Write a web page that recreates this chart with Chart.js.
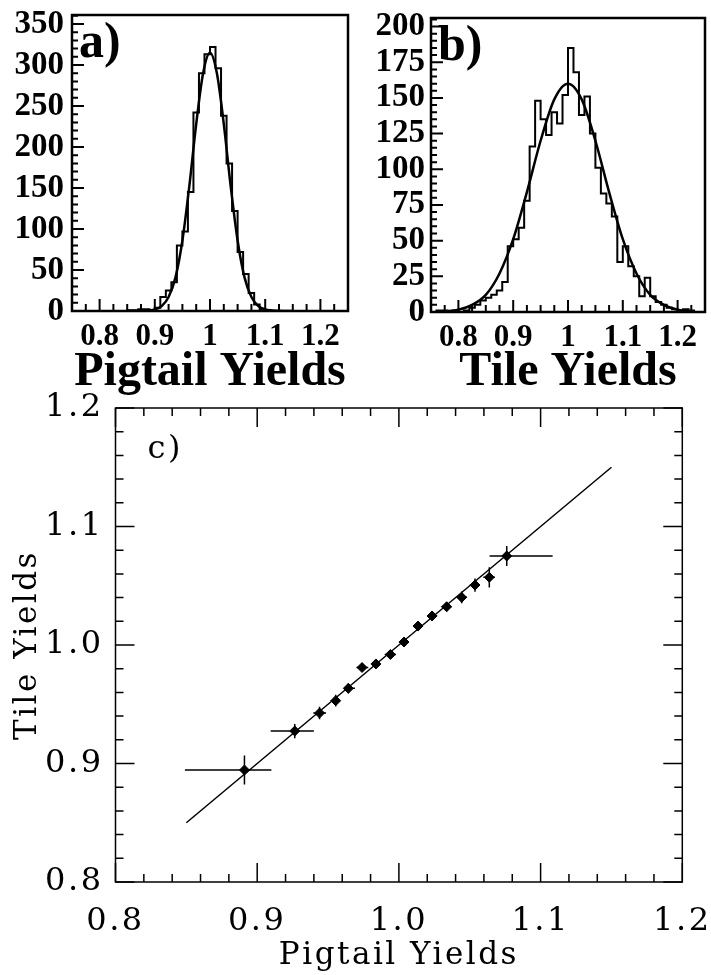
<!DOCTYPE html>
<html><head><meta charset="utf-8">
<script src="https://cdn.jsdelivr.net/npm/chart.js@4"></script>
<style>
html,body{margin:0;padding:0;background:#fff;width:711px;height:975px;overflow:hidden;position:relative}
canvas{position:absolute}
</style></head><body>
<canvas id="ca" width="355" height="400" style="left:0;top:0"></canvas>
<canvas id="cb" width="356" height="400" style="left:355px;top:0"></canvas>
<canvas id="cc" width="711" height="590" style="left:0;top:385px"></canvas>
<script>
// ---------------- DATA ----------------
const binEdges = [0.75,0.76,0.77,0.78,0.79,0.80,0.81,0.82,0.83,0.84,0.85,0.86,0.87,0.88,0.89,0.90,0.91,0.92,0.93,0.94,0.95,0.96,0.97,0.98,0.99,1.00,1.01,1.02,1.03,1.04,1.05,1.06,1.07,1.08,1.09,1.10,1.11,1.12,1.13,1.14,1.15,1.16,1.17,1.18,1.19,1.20,1.21,1.22,1.23,1.24,1.25];
const pigtailCounts = [0,0,0,0,0,0,0,0,0,0, 1,1,2,2,1,4,17,25,35,80, 97,145,242,290,313,322,296,238,180,122, 72,45,22,8,2,1,0,0,0,0, 0,0,0,0,0,0,0,0,0,0];
const tileCounts = [0,1,1,0,1,0,1,3,5,8, 10,12,15,21,46,51,59,78,116,148, 135,124,140,132,152,185,168,138,151,125, 101,83,76,67,35,46,32,25,11,24, 11,7,5,3,2,1,2,1,0,0];
const pigtailFitX = [0.85,0.875,0.9,0.9125,0.925,0.9375,0.95,0.9625,0.975,0.9875,1.0,1.0125,1.025,1.0375,1.05,1.0625,1.075,1.0875,1.1,1.125,1.15];
const pigtailFitY = [0,0.3,2,6,17,41,86,152,228,290,315,290,228,152,86,41,17,6,2,0.3,0];
const tileFitX = [0.775,0.8,0.825,0.85,0.875,0.9,0.925,0.95,0.975,1.0,1.025,1.05,1.075,1.1,1.125,1.15,1.175,1.2,1.225];
const tileFitY = [0.5,1.6,5,12,27,51,84,120,149,160,149,120,84,51,27,12,5,1.6,0.5];
const histXTicks = [0.8,0.9,1.0,1.1,1.2];
const histXLabels = ['0.8','0.9','1','1.1','1.2'];
const pigtailYTicks = [0,50,100,150,200,250,300,350];
const tileYTicks = [0,25,50,75,100,125,150,175,200];

const pigtailMean = [0.891,0.9265,0.944,0.9554,0.9643,0.974,0.9838,0.994,1.0036,1.0135,1.0234,1.0337,1.0443,1.0537,1.0638,1.0761];
const tileMean    = [0.8945,0.9274,0.9426,0.953,0.9634,0.981,0.984,0.992,1.0025,1.016,1.0245,1.0323,1.0402,1.0506,1.0571,1.0751];
const pigtailLow  = [0.849,0.9095,0.9396,0.9519,0.9613,0.9702,0.9808,0.990,1.000,1.010,1.020,1.030,1.041,1.050,1.0596,1.064];
const pigtailHigh = [0.910,0.940,0.9486,0.9584,0.969,0.9784,0.9866,0.998,1.007,1.017,1.027,1.037,1.048,1.057,1.0678,1.1085];
const tileErr     = [0.0122,0.006,0.0053,0.005,0.0042,0.003,0.003,0.003,0.003,0.003,0.003,0.004,0.005,0.0056,0.0085,0.0085];
const fitLineX = [0.85,1.15];
const fitLineY = [0.85,1.15];
const corrTicks = [0.8,0.9,1.0,1.1,1.2];
const corrLabels = ['0.8','0.9','1.0','1.1','1.2'];

// ---------------- HELPERS ----------------
function stepValues(a, b, s) { const out=[]; const n=Math.round((b-a)/s); for(let k=0;k<=n;k++) out.push(+(a+k*s).toFixed(6)); return out; }
function histPoints(edges, counts) {
  const pts = counts.map((c,i)=>({x:edges[i], y:c}));
  pts.push({x:edges[edges.length-1], y:counts[counts.length-1]});
  return pts;
}
function xyPoints(xs, ys) { return xs.map((x,i)=>({x, y:ys[i]})); }

const frameTicks = {
  id:'frameTicks',
  afterDatasetsDraw(chart, args, o) {
    const {ctx, chartArea:a, scales:{x, y}} = chart;
    ctx.save();
    ctx.strokeStyle='#000'; ctx.lineCap='butt';
    ctx.lineWidth=o.tickWidth;
    ctx.beginPath();
    const xt = (vals, len) => { for (const v of vals) { const p = x.getPixelForValue(v);
      ctx.moveTo(p, a.bottom); ctx.lineTo(p, a.bottom-len);
      if (o.mirror) { ctx.moveTo(p, a.top); ctx.lineTo(p, a.top+len); } } };
    const yt = (vals, len) => { for (const v of vals) { const p = y.getPixelForValue(v);
      ctx.moveTo(a.left, p); ctx.lineTo(a.left+len, p);
      if (o.mirror) { ctx.moveTo(a.right, p); ctx.lineTo(a.right-len, p); } } };
    xt(o.xMinor, o.minorLen); xt(o.xMajor, o.majorLen);
    yt(o.yMinor, o.yMinorLen || o.minorLen); yt(o.yMajor, o.yMajorLen || o.majorLen);
    ctx.stroke();
    ctx.lineWidth=o.frameWidth;
    ctx.strokeRect(a.left, a.top, a.right-a.left, a.bottom-a.top);
    if (o.label) {
      ctx.fillStyle='#000'; ctx.font=o.labelFont; ctx.textBaseline='alphabetic'; ctx.textAlign='left';
      ctx.fillText(o.label, a.left+o.labelDx, a.top+o.labelDy);
    }
    ctx.restore();
  }
};

const errorBars = {
  id:'errorBars',
  afterDatasetsDraw(chart, args, o) {
    if (!o.enabled) return;
    const {ctx, scales:{x, y}} = chart;
    ctx.save(); ctx.strokeStyle='#000'; ctx.lineWidth=1.5; ctx.beginPath();
    for (let i=0;i<pigtailMean.length;i++) {
      const py = y.getPixelForValue(tileMean[i]);
      ctx.moveTo(x.getPixelForValue(pigtailLow[i]), py); ctx.lineTo(x.getPixelForValue(pigtailHigh[i]), py);
      const px = x.getPixelForValue(pigtailMean[i]);
      ctx.moveTo(px, y.getPixelForValue(tileMean[i]-tileErr[i])); ctx.lineTo(px, y.getPixelForValue(tileMean[i]+tileErr[i]));
    }
    ctx.stroke(); ctx.restore();
  }
};

const spacing = { id:'spacing', beforeDraw(chart, args, o) { if (o.value) chart.ctx.letterSpacing = o.value; } };

function fixScale(w, h) {
  return function(scale) {
    if (w !== null) scale.width = w;
    if (h !== null) scale.height = h;
    scale.paddingLeft = 0; scale.paddingRight = 0; scale.paddingTop = 0; scale.paddingBottom = 0;
  };
}
function setTicks(vals) { return function(scale) { scale.ticks = vals.map(v=>({value:v})); }; }

const boldSerif = (size) => ({family:'Liberation Serif', weight:'bold', size, lineHeight:1});

function histChart(id, counts, fitX, fitY, yMax, yTicks, yMinorStep, padRight, padTop, yWidth, xHeight, yPad, label) {
  return new Chart(document.getElementById(id), {
    type:'line',
    data:{ datasets:[
      {data:histPoints(binEdges, counts), stepped:'before', borderColor:'#000', borderWidth:2, pointRadius:0, fill:false},
      {data:xyPoints(fitX, fitY), borderColor:'#000', borderWidth:2.5, pointRadius:0, cubicInterpolationMode:'monotone', fill:false}
    ]},
    options:{
      responsive:false, animation:false, events:[],
      layout:{padding:{left:0,right:padRight,top:padTop,bottom:0}},
      plugins:{legend:{display:false}, tooltip:{enabled:false},
        frameTicks:{tickWidth:2, frameWidth:2.5, majorLen:12, minorLen:7, yMajorLen:12, yMinorLen:6, mirror:false,
          xMajor:histXTicks, xMinor:stepValues(0.75,1.25,0.025),
          yMajor:yTicks, yMinor:stepValues(0, yMax, yMinorStep),
          label:label, labelFont:'bold 50px "Liberation Serif"', labelDx:7, labelDy:42},
        errorBars:{enabled:false}},
      scales:{
        x:{type:'linear', min:0.75, max:1.25, afterBuildTicks:setTicks(histXTicks), afterFit:fixScale(null, xHeight),
          grid:{display:false, drawTicks:false}, border:{display:false},
          ticks:{autoSkip:false, maxRotation:0, padding:10, color:'#000', font:boldSerif(31), callback:(v,i)=>histXLabels[i]},
          title:{display:true, text:label==='a)'?'Pigtail Yields':'Tile Yields', color:'#000', font:boldSerif(48), padding:{top:0,bottom:3}}},
        y:{type:'linear', min:0, max:yMax, afterBuildTicks:setTicks(yTicks), afterFit:fixScale(yWidth, null),
          grid:{display:false, drawTicks:false}, border:{display:false},
          ticks:{autoSkip:false, padding:yPad, color:'#000', font:boldSerif(33)}}
      }
    },
    plugins:[frameTicks, errorBars]
  });
}

histChart('ca', pigtailCounts, pigtailFitX, pigtailFitY, 361, pigtailYTicks, 10, 7, 15, 72, 89, 8, 'a)');
histChart('cb', tileCounts, tileFitX, tileFitY, 206, tileYTicks, 5, 6, 18, 76, 88, 6, 'b)');

const serif = (size) => ({family:'DejaVu Serif', weight:'normal', size, lineHeight:1});
new Chart(document.getElementById('cc'), {
  type:'scatter',
  data:{ datasets:[
    {type:'line', data:xyPoints(fitLineX, fitLineY), borderColor:'#000', borderWidth:1.5, pointRadius:0, fill:false},
    {type:'scatter', data:xyPoints(pigtailMean, tileMean), pointStyle:'rectRot', pointRadius:5, backgroundColor:'#000', borderColor:'#000', borderWidth:1}
  ]},
  options:{
    responsive:false, animation:false, events:[],
    layout:{padding:{left:0,right:28.7,top:23,bottom:0}},
    plugins:{legend:{display:false}, tooltip:{enabled:false}, spacing:{value:'2.5px'},
      frameTicks:{tickWidth:1.5, frameWidth:1.5, majorLen:19, minorLen:8, mirror:true,
        xMajor:corrTicks, xMinor:stepValues(0.8,1.2,0.02), yMajor:corrTicks, yMinor:stepValues(0.8,1.2,0.02),
        label:'c)', labelFont:'32px "DejaVu Serif"', labelDx:32, labelDy:50},
      errorBars:{enabled:true}},
    scales:{
      x:{type:'linear', min:0.8, max:1.2, afterBuildTicks:setTicks(corrTicks), afterFit:fixScale(null, 93),
        grid:{display:false, drawTicks:false}, border:{display:false},
        ticks:{autoSkip:false, maxRotation:0, padding:24, color:'#000', font:serif(32), callback:(v,i)=>corrLabels[i]},
        title:{display:true, text:'Pigtail Yields', color:'#000', font:serif(31), padding:{top:0,bottom:4}}},
      y:{type:'linear', min:0.8, max:1.2, afterBuildTicks:setTicks(corrTicks), afterFit:fixScale(115.5, null),
        grid:{display:false, drawTicks:false}, border:{display:false},
        ticks:{autoSkip:false, padding:12, color:'#000', font:serif(32), callback:(v,i)=>corrLabels[i]},
        title:{display:true, text:'Tile Yields', color:'#000', font:serif(31), padding:{top:12,bottom:0}}}
    }
  },
  plugins:[spacing, frameTicks, errorBars]
});
</script>
</body></html>
